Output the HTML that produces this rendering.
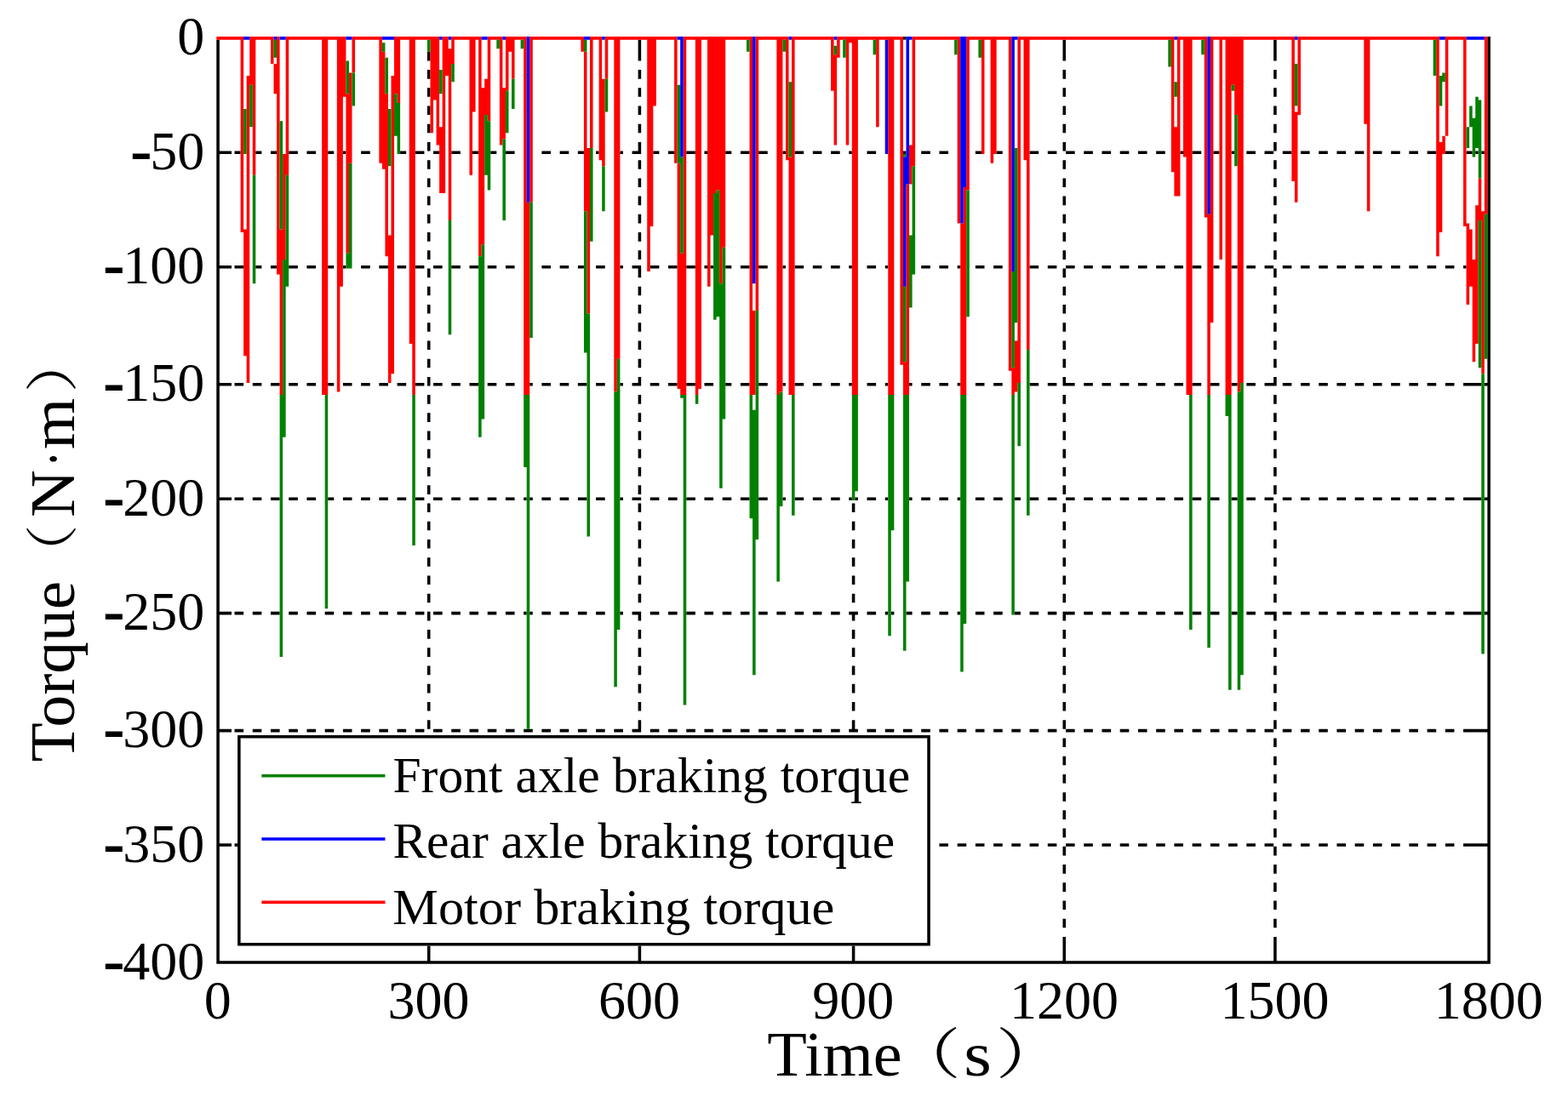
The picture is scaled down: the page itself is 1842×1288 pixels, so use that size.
<!DOCTYPE html>
<html>
<head>
<meta charset="utf-8">
<title>Braking torque</title>
<style>
html,body{margin:0;padding:0;background:#fff;}
body{width:1842px;height:1288px;overflow:hidden;position:relative;}
svg{position:absolute;left:0;top:0;display:block;}
text{font-family:"Liberation Serif","Noto Serif CJK SC",serif;fill:#000;}
.tk{font-size:64px;}
.hy{font-size:77px;font-weight:bold;}
.lg{font-size:58.2px;}
.ax{font-size:74px;}
.pr{font-size:64px;}
.pr2{font-size:62px;}
</style>
</head>
<body>
<svg width="1842" height="1288" viewBox="0 0 1842 1288">
<rect x="0" y="0" width="1842" height="1288" fill="#fff"/>
<path id="frame" fill="#000" d="M254.3 46.64H257.84V1132.8H254.3ZM257.84 449.97H271.99V453.51H257.84ZM257.84 177.54H271.99V181.08H257.84ZM257.84 718.86H271.99V722.4H257.84ZM257.84 584.41H271.99V587.95H257.84ZM257.84 856.84H271.99V860.38H257.84ZM257.84 311.99H271.99V315.53H257.84ZM257.84 991.28H271.99V994.82H257.84ZM275.53 177.54H282.6V181.08H275.53ZM275.53 449.97H286.14V453.51H275.53ZM275.53 718.86H286.14V722.4H275.53ZM275.53 584.41H286.14V587.95H275.53ZM275.53 856.84H286.14V860.38H275.53ZM275.53 311.99H286.14V315.53H275.53ZM275.53 991.28H286.14V994.82H275.53ZM296.76 449.97H307.37V453.51H296.76ZM296.76 718.86H307.37V722.4H296.76ZM296.76 584.41H307.37V587.95H296.76ZM296.76 856.84H307.37V860.38H296.76ZM296.76 991.28H307.37V994.82H296.76ZM300.29 177.54H307.37V181.08H300.29ZM300.29 311.99H307.37V315.53H300.29ZM317.98 177.54H325.06V181.08H317.98ZM317.98 311.99H325.06V315.53H317.98ZM317.98 449.97H328.6V453.51H317.98ZM317.98 718.86H328.6V722.4H317.98ZM317.98 584.41H328.6V587.95H317.98ZM317.98 856.84H328.6V860.38H317.98ZM317.98 991.28H328.6V994.82H317.98ZM339.21 449.97H349.83V453.51H339.21ZM339.21 177.54H349.83V181.08H339.21ZM339.21 718.86H349.83V722.4H339.21ZM339.21 584.41H349.83V587.95H339.21ZM339.21 856.84H349.83V860.38H339.21ZM339.21 311.99H349.83V315.53H339.21ZM339.21 991.28H349.83V994.82H339.21ZM360.44 449.97H371.05V453.51H360.44ZM360.44 177.54H371.05V181.08H360.44ZM360.44 718.86H371.05V722.4H360.44ZM360.44 584.41H371.05V587.95H360.44ZM360.44 856.84H371.05V860.38H360.44ZM360.44 311.99H371.05V315.53H360.44ZM360.44 991.28H371.05V994.82H360.44ZM381.67 991.28H392.28V994.82H381.67ZM381.67 718.86H392.28V722.4H381.67ZM381.67 856.84H392.28V860.38H381.67ZM385.21 449.97H392.28V453.51H385.21ZM385.21 177.54H392.28V181.08H385.21ZM385.21 584.41H392.28V587.95H385.21ZM385.21 311.99H392.28V315.53H385.21ZM402.9 177.54H406.43V181.08H402.9ZM402.9 311.99H406.43V315.53H402.9ZM402.9 449.97H413.51V453.51H402.9ZM402.9 718.86H413.51V722.4H402.9ZM402.9 584.41H413.51V587.95H402.9ZM402.9 856.84H413.51V860.38H402.9ZM402.9 991.28H413.51V994.82H402.9ZM424.12 449.97H434.74V453.51H424.12ZM424.12 177.54H434.74V181.08H424.12ZM424.12 718.86H434.74V722.4H424.12ZM424.12 584.41H434.74V587.95H424.12ZM424.12 856.84H434.74V860.38H424.12ZM424.12 311.99H434.74V315.53H424.12ZM424.12 991.28H434.74V994.82H424.12ZM445.35 449.97H455.97V453.51H445.35ZM445.35 718.86H455.97V722.4H445.35ZM445.35 584.41H455.97V587.95H445.35ZM445.35 856.84H455.97V860.38H445.35ZM445.35 311.99H455.97V315.53H445.35ZM445.35 991.28H455.97V994.82H445.35ZM466.58 449.97H477.19V453.51H466.58ZM466.58 718.86H477.19V722.4H466.58ZM466.58 584.41H477.19V587.95H466.58ZM466.58 856.84H477.19V860.38H466.58ZM466.58 311.99H477.19V315.53H466.58ZM466.58 991.28H477.19V994.82H466.58ZM470.12 177.54H477.19V181.08H470.12ZM487.81 449.97H498.42V453.51H487.81ZM487.81 177.54H498.42V181.08H487.81ZM487.81 718.86H498.42V722.4H487.81ZM487.81 584.41H498.42V587.95H487.81ZM487.81 856.84H498.42V860.38H487.81ZM487.81 311.99H498.42V315.53H487.81ZM487.81 991.28H498.42V994.82H487.81ZM257.84 1129.27H501.96V1132.8H257.84ZM501.96 697.63H505.5V708.24H501.96ZM501.96 761.31H505.5V771.93H501.96ZM501.96 421.67H505.5V432.28H501.96ZM501.96 909.91H505.5V920.52H501.96ZM501.96 485.35H505.5V495.96H501.96ZM501.96 973.59H505.5V984.21H501.96ZM501.96 145.7H505.5V156.32H501.96ZM501.96 633.95H505.5V644.56H501.96ZM501.96 357.98H505.5V368.6H501.96ZM501.96 846.23H505.5V856.84H501.96ZM501.96 82.02H505.5V92.63H501.96ZM501.96 506.58H505.5V517.19H501.96ZM501.96 570.26H505.5V580.88H501.96ZM501.96 230.61H505.5V241.23H501.96ZM501.96 1058.51H505.5V1069.12H501.96ZM501.96 294.3H505.5V304.91H501.96ZM501.96 782.54H505.5V793.16H501.96ZM501.96 994.82H505.5V1005.44H501.96ZM501.96 166.93H505.5V177.54H501.96ZM501.96 655.17H505.5V665.79H501.96ZM501.96 379.21H505.5V389.82H501.96ZM501.96 315.53H505.5V326.14H501.96ZM501.96 718.86H505.5V729.47H501.96ZM501.96 442.89H505.5V453.51H501.96ZM501.96 867.45H505.5V878.07H501.96ZM501.96 103.25H505.5V113.86H501.96ZM501.96 931.14H505.5V941.75H501.96ZM501.96 591.49H505.5V602.1H501.96ZM501.96 1079.73H505.5V1090.35H501.96ZM501.96 740.09H505.5V750.7H501.96ZM501.96 803.77H505.5V814.38H501.96ZM501.96 464.12H505.5V474.74H501.96ZM501.96 952.37H505.5V962.98H501.96ZM501.96 188.16H505.5V198.77H501.96ZM501.96 527.81H505.5V538.42H501.96ZM501.96 1016.05H505.5V1026.66H501.96ZM501.96 251.84H505.5V262.46H501.96ZM501.96 400.44H505.5V411.05H501.96ZM501.96 888.68H505.5V899.3H501.96ZM501.96 124.47H505.5V135.09H501.96ZM501.96 60.79H505.5V71.4H501.96ZM501.96 549.03H505.5V559.65H501.96ZM501.96 612.72H505.5V623.33H501.96ZM501.96 273.07H505.5V283.68H501.96ZM501.96 676.4H505.5V687.02H501.96ZM501.96 336.75H505.5V347.37H501.96ZM501.96 1100.96H505.5V1132.8H501.96ZM501.96 825H505.5V835.61H501.96ZM501.96 1037.28H505.5V1047.89H501.96ZM501.96 209.39H505.5V220H501.96ZM509.04 177.54H516.11V181.08H509.04ZM509.04 449.97H519.65V453.51H509.04ZM509.04 718.86H519.65V722.4H509.04ZM509.04 584.41H519.65V587.95H509.04ZM509.04 856.84H519.65V860.38H509.04ZM509.04 311.99H519.65V315.53H509.04ZM509.04 991.28H519.65V994.82H509.04ZM530.26 449.97H540.88V453.51H530.26ZM530.26 177.54H540.88V181.08H530.26ZM530.26 718.86H540.88V722.4H530.26ZM530.26 584.41H540.88V587.95H530.26ZM530.26 856.84H540.88V860.38H530.26ZM530.26 311.99H540.88V315.53H530.26ZM530.26 991.28H540.88V994.82H530.26ZM551.49 449.97H562.11V453.51H551.49ZM551.49 718.86H562.11V722.4H551.49ZM551.49 584.41H562.11V587.95H551.49ZM551.49 856.84H562.11V860.38H551.49ZM551.49 311.99H562.11V315.53H551.49ZM551.49 991.28H562.11V994.82H551.49ZM555.03 177.54H562.11V181.08H555.03ZM572.72 449.97H583.33V453.51H572.72ZM572.72 718.86H583.33V722.4H572.72ZM572.72 584.41H583.33V587.95H572.72ZM572.72 856.84H583.33V860.38H572.72ZM572.72 311.99H583.33V315.53H572.72ZM572.72 991.28H583.33V994.82H572.72ZM576.26 177.54H583.33V181.08H576.26ZM593.95 449.97H604.56V453.51H593.95ZM593.95 177.54H604.56V181.08H593.95ZM593.95 718.86H604.56V722.4H593.95ZM593.95 584.41H604.56V587.95H593.95ZM593.95 856.84H604.56V860.38H593.95ZM593.95 311.99H604.56V315.53H593.95ZM593.95 991.28H604.56V994.82H593.95ZM615.18 718.86H618.71V722.4H615.18ZM615.18 584.41H618.71V587.95H615.18ZM615.18 856.84H625.79V860.38H615.18ZM615.18 991.28H625.79V994.82H615.18ZM622.25 449.97H625.79V453.51H622.25ZM622.25 718.86H625.79V722.4H622.25ZM622.25 584.41H625.79V587.95H622.25ZM636.4 449.97H647.02V453.51H636.4ZM636.4 177.54H647.02V181.08H636.4ZM636.4 718.86H647.02V722.4H636.4ZM636.4 584.41H647.02V587.95H636.4ZM636.4 856.84H647.02V860.38H636.4ZM636.4 311.99H647.02V315.53H636.4ZM636.4 991.28H647.02V994.82H636.4ZM657.63 449.97H668.25V453.51H657.63ZM657.63 177.54H668.25V181.08H657.63ZM657.63 718.86H668.25V722.4H657.63ZM657.63 584.41H668.25V587.95H657.63ZM657.63 856.84H668.25V860.38H657.63ZM657.63 311.99H668.25V315.53H657.63ZM657.63 991.28H668.25V994.82H657.63ZM678.86 177.54H685.94V181.08H678.86ZM678.86 311.99H685.94V315.53H678.86ZM678.86 449.97H689.47V453.51H678.86ZM678.86 718.86H689.47V722.4H678.86ZM678.86 584.41H689.47V587.95H678.86ZM678.86 856.84H689.47V860.38H678.86ZM678.86 991.28H689.47V994.82H678.86ZM700.09 177.54H703.63V181.08H700.09ZM700.09 449.97H710.7V453.51H700.09ZM700.09 718.86H710.7V722.4H700.09ZM700.09 584.41H710.7V587.95H700.09ZM700.09 856.84H710.7V860.38H700.09ZM700.09 311.99H710.7V315.53H700.09ZM700.09 991.28H710.7V994.82H700.09ZM721.32 991.28H731.93V994.82H721.32ZM721.32 856.84H731.93V860.38H721.32ZM728.39 449.97H731.93V453.51H728.39ZM728.39 177.54H731.93V181.08H728.39ZM728.39 718.86H731.93V722.4H728.39ZM728.39 584.41H731.93V587.95H728.39ZM728.39 311.99H731.93V315.53H728.39ZM505.5 1129.27H749.62V1132.8H505.5ZM742.54 449.97H749.62V453.51H742.54ZM742.54 177.54H749.62V181.08H742.54ZM742.54 718.86H749.62V722.4H742.54ZM742.54 856.84H749.62V860.38H742.54ZM742.54 311.99H749.62V315.53H742.54ZM742.54 991.28H749.62V994.82H742.54ZM742.54 584.41H753.16V587.95H742.54ZM749.62 697.63H753.16V708.24H749.62ZM749.62 761.31H753.16V771.93H749.62ZM749.62 421.67H753.16V432.28H749.62ZM749.62 909.91H753.16V920.52H749.62ZM749.62 166.93H753.16V181.08H749.62ZM749.62 485.35H753.16V495.96H749.62ZM749.62 973.59H753.16V984.21H749.62ZM749.62 145.7H753.16V156.32H749.62ZM749.62 633.95H753.16V644.56H749.62ZM749.62 357.98H753.16V368.6H749.62ZM749.62 82.02H753.16V92.63H749.62ZM749.62 506.58H753.16V517.19H749.62ZM749.62 570.26H753.16V580.88H749.62ZM749.62 230.61H753.16V241.23H749.62ZM749.62 1058.51H753.16V1069.12H749.62ZM749.62 294.3H753.16V304.91H749.62ZM749.62 782.54H753.16V793.16H749.62ZM749.62 655.17H753.16V665.79H749.62ZM749.62 379.21H753.16V389.82H749.62ZM749.62 718.86H753.16V729.47H749.62ZM749.62 442.89H753.16V453.51H749.62ZM749.62 867.45H753.16V878.07H749.62ZM749.62 103.25H753.16V113.86H749.62ZM749.62 931.14H753.16V941.75H749.62ZM749.62 591.49H753.16V602.1H749.62ZM749.62 1079.73H753.16V1090.35H749.62ZM749.62 46.64H753.16V71.4H749.62ZM749.62 740.09H753.16V750.7H749.62ZM749.62 803.77H753.16V814.38H749.62ZM749.62 464.12H753.16V474.74H749.62ZM749.62 952.37H753.16V962.98H749.62ZM749.62 188.16H753.16V198.77H749.62ZM749.62 527.81H753.16V538.42H749.62ZM749.62 1016.05H753.16V1026.66H749.62ZM749.62 251.84H753.16V262.46H749.62ZM749.62 991.28H753.16V1005.44H749.62ZM749.62 400.44H753.16V411.05H749.62ZM749.62 888.68H753.16V899.3H749.62ZM749.62 124.47H753.16V135.09H749.62ZM749.62 549.03H753.16V559.65H749.62ZM749.62 612.72H753.16V623.33H749.62ZM749.62 273.07H753.16V283.68H749.62ZM749.62 676.4H753.16V687.02H749.62ZM749.62 846.23H753.16V860.38H749.62ZM749.62 336.75H753.16V347.37H749.62ZM749.62 1100.96H753.16V1132.8H749.62ZM749.62 311.99H753.16V326.14H749.62ZM749.62 825H753.16V835.61H749.62ZM749.62 1037.28H753.16V1047.89H749.62ZM749.62 209.39H753.16V220H749.62ZM763.77 449.97H774.39V453.51H763.77ZM763.77 718.86H774.39V722.4H763.77ZM763.77 584.41H774.39V587.95H763.77ZM763.77 856.84H774.39V860.38H763.77ZM763.77 311.99H774.39V315.53H763.77ZM763.77 991.28H774.39V994.82H763.77ZM767.31 177.54H774.39V181.08H767.31ZM785 177.54H792.08V181.08H785ZM785 449.97H795.61V453.51H785ZM785 718.86H795.61V722.4H785ZM785 584.41H795.61V587.95H785ZM785 856.84H795.61V860.38H785ZM785 311.99H795.61V315.53H785ZM785 991.28H795.61V994.82H785ZM806.23 449.97H816.84V453.51H806.23ZM806.23 177.54H816.84V181.08H806.23ZM806.23 718.86H816.84V722.4H806.23ZM806.23 584.41H816.84V587.95H806.23ZM806.23 856.84H816.84V860.38H806.23ZM806.23 311.99H816.84V315.53H806.23ZM806.23 991.28H816.84V994.82H806.23ZM827.46 177.54H830.99V181.08H827.46ZM827.46 311.99H830.99V315.53H827.46ZM827.46 449.97H838.07V453.51H827.46ZM827.46 718.86H838.07V722.4H827.46ZM827.46 584.41H838.07V587.95H827.46ZM827.46 856.84H838.07V860.38H827.46ZM827.46 991.28H838.07V994.82H827.46ZM834.53 311.99H838.07V315.53H834.53ZM848.68 718.86H859.3V722.4H848.68ZM848.68 584.41H859.3V587.95H848.68ZM848.68 856.84H859.3V860.38H848.68ZM848.68 991.28H859.3V994.82H848.68ZM852.22 449.97H859.3V453.51H852.22ZM852.22 177.54H859.3V181.08H852.22ZM852.22 311.99H859.3V315.53H852.22ZM869.91 449.97H880.53V453.51H869.91ZM869.91 177.54H880.53V181.08H869.91ZM869.91 718.86H880.53V722.4H869.91ZM869.91 584.41H880.53V587.95H869.91ZM869.91 856.84H880.53V860.38H869.91ZM869.91 311.99H880.53V315.53H869.91ZM869.91 991.28H880.53V994.82H869.91ZM891.14 449.97H901.75V453.51H891.14ZM891.14 177.54H901.75V181.08H891.14ZM891.14 718.86H901.75V722.4H891.14ZM891.14 584.41H901.75V587.95H891.14ZM891.14 856.84H901.75V860.38H891.14ZM891.14 311.99H901.75V315.53H891.14ZM891.14 991.28H901.75V994.82H891.14ZM912.37 991.28H922.98V994.82H912.37ZM912.37 718.86H922.98V722.4H912.37ZM912.37 856.84H922.98V860.38H912.37ZM919.44 449.97H922.98V453.51H919.44ZM919.44 177.54H922.98V181.08H919.44ZM919.44 584.41H922.98V587.95H919.44ZM919.44 311.99H922.98V315.53H919.44ZM933.6 449.97H944.21V453.51H933.6ZM933.6 177.54H944.21V181.08H933.6ZM933.6 718.86H944.21V722.4H933.6ZM933.6 584.41H944.21V587.95H933.6ZM933.6 856.84H944.21V860.38H933.6ZM933.6 311.99H944.21V315.53H933.6ZM933.6 991.28H944.21V994.82H933.6ZM954.82 449.97H965.44V453.51H954.82ZM954.82 177.54H965.44V181.08H954.82ZM954.82 718.86H965.44V722.4H954.82ZM954.82 584.41H965.44V587.95H954.82ZM954.82 856.84H965.44V860.38H954.82ZM954.82 311.99H965.44V315.53H954.82ZM954.82 991.28H965.44V994.82H954.82ZM976.05 449.97H986.67V453.51H976.05ZM976.05 177.54H986.67V181.08H976.05ZM976.05 718.86H986.67V722.4H976.05ZM976.05 584.41H986.67V587.95H976.05ZM976.05 856.84H986.67V860.38H976.05ZM976.05 311.99H986.67V315.53H976.05ZM976.05 991.28H986.67V994.82H976.05ZM753.16 1129.27H1000.82V1132.8H753.16ZM997.28 449.97H1000.82V453.51H997.28ZM997.28 177.54H1000.82V181.08H997.28ZM997.28 718.86H1000.82V722.4H997.28ZM997.28 584.41H1000.82V587.95H997.28ZM997.28 856.84H1000.82V860.38H997.28ZM997.28 311.99H1000.82V315.53H997.28ZM997.28 991.28H1000.82V994.82H997.28ZM1000.82 697.63H1004.36V708.24H1000.82ZM1000.82 761.31H1004.36V771.93H1000.82ZM1000.82 909.91H1004.36V920.52H1000.82ZM1000.82 973.59H1004.36V984.21H1000.82ZM1000.82 633.95H1004.36V644.56H1000.82ZM1000.82 1058.51H1004.36V1069.12H1000.82ZM1000.82 782.54H1004.36V793.16H1000.82ZM1000.82 655.17H1004.36V665.79H1000.82ZM1000.82 718.86H1004.36V729.47H1000.82ZM1000.82 867.45H1004.36V878.07H1000.82ZM1000.82 931.14H1004.36V941.75H1000.82ZM1000.82 591.49H1004.36V602.1H1000.82ZM1000.82 1079.73H1004.36V1090.35H1000.82ZM1000.82 740.09H1004.36V750.7H1000.82ZM1000.82 803.77H1004.36V814.38H1000.82ZM1000.82 952.37H1004.36V962.98H1000.82ZM1000.82 1016.05H1004.36V1026.66H1000.82ZM1000.82 991.28H1004.36V1005.44H1000.82ZM1000.82 888.68H1004.36V899.3H1000.82ZM1000.82 612.72H1004.36V623.33H1000.82ZM1000.82 676.4H1004.36V687.02H1000.82ZM1000.82 846.23H1004.36V860.38H1000.82ZM1000.82 1100.96H1004.36V1132.8H1000.82ZM1000.82 825H1004.36V835.61H1000.82ZM1000.82 1037.28H1004.36V1047.89H1000.82ZM1004.36 718.86H1007.89V722.4H1004.36ZM1004.36 584.41H1007.89V587.95H1004.36ZM1004.36 856.84H1007.89V860.38H1004.36ZM1004.36 991.28H1007.89V994.82H1004.36ZM1018.51 449.97H1029.12V453.51H1018.51ZM1018.51 177.54H1029.12V181.08H1018.51ZM1018.51 718.86H1029.12V722.4H1018.51ZM1018.51 584.41H1029.12V587.95H1018.51ZM1018.51 856.84H1029.12V860.38H1018.51ZM1018.51 311.99H1029.12V315.53H1018.51ZM1018.51 991.28H1029.12V994.82H1018.51ZM1039.74 449.97H1043.27V453.51H1039.74ZM1039.74 718.86H1043.27V722.4H1039.74ZM1039.74 584.41H1043.27V587.95H1039.74ZM1039.74 311.99H1043.27V315.53H1039.74ZM1039.74 856.84H1050.35V860.38H1039.74ZM1039.74 991.28H1050.35V994.82H1039.74ZM1046.81 718.86H1050.35V722.4H1046.81ZM1060.96 177.54H1064.5V181.08H1060.96ZM1060.96 991.28H1071.58V994.82H1060.96ZM1060.96 856.84H1071.58V860.38H1060.96ZM1064.5 718.86H1071.58V722.4H1064.5ZM1068.04 449.97H1071.58V453.51H1068.04ZM1068.04 584.41H1071.58V587.95H1068.04ZM1082.19 449.97H1092.81V453.51H1082.19ZM1082.19 177.54H1092.81V181.08H1082.19ZM1082.19 718.86H1092.81V722.4H1082.19ZM1082.19 584.41H1092.81V587.95H1082.19ZM1082.19 856.84H1092.81V860.38H1082.19ZM1082.19 311.99H1092.81V315.53H1082.19ZM1082.19 991.28H1092.81V994.82H1082.19ZM1103.42 449.97H1114.03V453.51H1103.42ZM1103.42 177.54H1114.03V181.08H1103.42ZM1103.42 718.86H1114.03V722.4H1103.42ZM1103.42 584.41H1114.03V587.95H1103.42ZM1103.42 856.84H1114.03V860.38H1103.42ZM1103.42 311.99H1114.03V315.53H1103.42ZM1103.42 991.28H1114.03V994.82H1103.42ZM1124.65 449.97H1128.19V453.51H1124.65ZM1124.65 718.86H1128.19V722.4H1124.65ZM1124.65 584.41H1128.19V587.95H1124.65ZM1124.65 311.99H1128.19V315.53H1124.65ZM1124.65 856.84H1135.26V860.38H1124.65ZM1124.65 991.28H1135.26V994.82H1124.65ZM1145.88 177.54H1152.95V181.08H1145.88ZM1145.88 449.97H1156.49V453.51H1145.88ZM1145.88 718.86H1156.49V722.4H1145.88ZM1145.88 584.41H1156.49V587.95H1145.88ZM1145.88 856.84H1156.49V860.38H1145.88ZM1145.88 311.99H1156.49V315.53H1145.88ZM1145.88 991.28H1156.49V994.82H1145.88ZM1167.1 449.97H1177.72V453.51H1167.1ZM1167.1 718.86H1177.72V722.4H1167.1ZM1167.1 584.41H1177.72V587.95H1167.1ZM1167.1 856.84H1177.72V860.38H1167.1ZM1167.1 311.99H1177.72V315.53H1167.1ZM1167.1 991.28H1177.72V994.82H1167.1ZM1170.64 177.54H1177.72V181.08H1170.64ZM1188.33 991.28H1198.95V994.82H1188.33ZM1188.33 856.84H1198.95V860.38H1188.33ZM1191.87 718.86H1198.95V722.4H1191.87ZM1191.87 584.41H1198.95V587.95H1191.87ZM1209.56 449.97H1220.17V453.51H1209.56ZM1209.56 177.54H1220.17V181.08H1209.56ZM1209.56 718.86H1220.17V722.4H1209.56ZM1209.56 584.41H1220.17V587.95H1209.56ZM1209.56 856.84H1220.17V860.38H1209.56ZM1209.56 311.99H1220.17V315.53H1209.56ZM1209.56 991.28H1220.17V994.82H1209.56ZM1230.79 449.97H1241.4V453.51H1230.79ZM1230.79 177.54H1241.4V181.08H1230.79ZM1230.79 718.86H1241.4V722.4H1230.79ZM1230.79 584.41H1241.4V587.95H1230.79ZM1230.79 856.84H1241.4V860.38H1230.79ZM1230.79 311.99H1241.4V315.53H1230.79ZM1230.79 991.28H1241.4V994.82H1230.79ZM1004.36 1129.27H1248.48V1132.8H1004.36ZM1248.48 697.63H1252.02V708.24H1248.48ZM1248.48 761.31H1252.02V771.93H1248.48ZM1248.48 421.67H1252.02V432.28H1248.48ZM1248.48 909.91H1252.02V920.52H1248.48ZM1248.48 485.35H1252.02V495.96H1248.48ZM1248.48 973.59H1252.02V984.21H1248.48ZM1248.48 145.7H1252.02V156.32H1248.48ZM1248.48 633.95H1252.02V644.56H1248.48ZM1248.48 357.98H1252.02V368.6H1248.48ZM1248.48 846.23H1252.02V856.84H1248.48ZM1248.48 82.02H1252.02V92.63H1248.48ZM1248.48 506.58H1252.02V517.19H1248.48ZM1248.48 570.26H1252.02V580.88H1248.48ZM1248.48 230.61H1252.02V241.23H1248.48ZM1248.48 1058.51H1252.02V1069.12H1248.48ZM1248.48 294.3H1252.02V304.91H1248.48ZM1248.48 782.54H1252.02V793.16H1248.48ZM1248.48 994.82H1252.02V1005.44H1248.48ZM1248.48 166.93H1252.02V177.54H1248.48ZM1248.48 655.17H1252.02V665.79H1248.48ZM1248.48 379.21H1252.02V389.82H1248.48ZM1248.48 315.53H1252.02V326.14H1248.48ZM1248.48 718.86H1252.02V729.47H1248.48ZM1248.48 442.89H1252.02V453.51H1248.48ZM1248.48 867.45H1252.02V878.07H1248.48ZM1248.48 103.25H1252.02V113.86H1248.48ZM1248.48 931.14H1252.02V941.75H1248.48ZM1248.48 591.49H1252.02V602.1H1248.48ZM1248.48 1079.73H1252.02V1090.35H1248.48ZM1248.48 46.64H1252.02V71.4H1248.48ZM1248.48 740.09H1252.02V750.7H1248.48ZM1248.48 803.77H1252.02V814.38H1248.48ZM1248.48 464.12H1252.02V474.74H1248.48ZM1248.48 952.37H1252.02V962.98H1248.48ZM1248.48 188.16H1252.02V198.77H1248.48ZM1248.48 527.81H1252.02V538.42H1248.48ZM1248.48 1016.05H1252.02V1026.66H1248.48ZM1248.48 251.84H1252.02V262.46H1248.48ZM1248.48 400.44H1252.02V411.05H1248.48ZM1248.48 888.68H1252.02V899.3H1248.48ZM1248.48 124.47H1252.02V135.09H1248.48ZM1248.48 549.03H1252.02V559.65H1248.48ZM1248.48 612.72H1252.02V623.33H1248.48ZM1248.48 273.07H1252.02V283.68H1248.48ZM1248.48 676.4H1252.02V687.02H1248.48ZM1248.48 336.75H1252.02V347.37H1248.48ZM1248.48 1100.96H1252.02V1132.8H1248.48ZM1248.48 825H1252.02V835.61H1248.48ZM1248.48 1037.28H1252.02V1047.89H1248.48ZM1248.48 209.39H1252.02V220H1248.48ZM1252.02 449.97H1262.63V453.51H1252.02ZM1252.02 177.54H1262.63V181.08H1252.02ZM1252.02 718.86H1262.63V722.4H1252.02ZM1252.02 584.41H1262.63V587.95H1252.02ZM1252.02 856.84H1262.63V860.38H1252.02ZM1252.02 311.99H1262.63V315.53H1252.02ZM1252.02 991.28H1262.63V994.82H1252.02ZM1273.24 449.97H1283.86V453.51H1273.24ZM1273.24 177.54H1283.86V181.08H1273.24ZM1273.24 718.86H1283.86V722.4H1273.24ZM1273.24 584.41H1283.86V587.95H1273.24ZM1273.24 856.84H1283.86V860.38H1273.24ZM1273.24 311.99H1283.86V315.53H1273.24ZM1273.24 991.28H1283.86V994.82H1273.24ZM1294.47 449.97H1305.09V453.51H1294.47ZM1294.47 177.54H1305.09V181.08H1294.47ZM1294.47 718.86H1305.09V722.4H1294.47ZM1294.47 584.41H1305.09V587.95H1294.47ZM1294.47 856.84H1305.09V860.38H1294.47ZM1294.47 311.99H1305.09V315.53H1294.47ZM1294.47 991.28H1305.09V994.82H1294.47ZM1315.7 449.97H1326.31V453.51H1315.7ZM1315.7 177.54H1326.31V181.08H1315.7ZM1315.7 718.86H1326.31V722.4H1315.7ZM1315.7 584.41H1326.31V587.95H1315.7ZM1315.7 856.84H1326.31V860.38H1315.7ZM1315.7 311.99H1326.31V315.53H1315.7ZM1315.7 991.28H1326.31V994.82H1315.7ZM1336.93 449.97H1347.54V453.51H1336.93ZM1336.93 177.54H1347.54V181.08H1336.93ZM1336.93 718.86H1347.54V722.4H1336.93ZM1336.93 584.41H1347.54V587.95H1336.93ZM1336.93 856.84H1347.54V860.38H1336.93ZM1336.93 311.99H1347.54V315.53H1336.93ZM1336.93 991.28H1347.54V994.82H1336.93ZM1358.16 449.97H1368.77V453.51H1358.16ZM1358.16 177.54H1368.77V181.08H1358.16ZM1358.16 718.86H1368.77V722.4H1358.16ZM1358.16 584.41H1368.77V587.95H1358.16ZM1358.16 856.84H1368.77V860.38H1358.16ZM1358.16 311.99H1368.77V315.53H1358.16ZM1358.16 991.28H1368.77V994.82H1358.16ZM1379.38 449.97H1390V453.51H1379.38ZM1379.38 718.86H1390V722.4H1379.38ZM1379.38 584.41H1390V587.95H1379.38ZM1379.38 856.84H1390V860.38H1379.38ZM1379.38 311.99H1390V315.53H1379.38ZM1379.38 991.28H1390V994.82H1379.38ZM1386.46 177.54H1390V181.08H1386.46ZM1400.61 449.97H1411.23V453.51H1400.61ZM1400.61 177.54H1411.23V181.08H1400.61ZM1400.61 718.86H1411.23V722.4H1400.61ZM1400.61 584.41H1411.23V587.95H1400.61ZM1400.61 856.84H1411.23V860.38H1400.61ZM1400.61 311.99H1411.23V315.53H1400.61ZM1400.61 991.28H1411.23V994.82H1400.61ZM1421.84 449.97H1432.45V453.51H1421.84ZM1421.84 718.86H1432.45V722.4H1421.84ZM1421.84 584.41H1432.45V587.95H1421.84ZM1421.84 856.84H1432.45V860.38H1421.84ZM1421.84 991.28H1432.45V994.82H1421.84ZM1425.38 177.54H1432.45V181.08H1425.38ZM1425.38 311.99H1432.45V315.53H1425.38ZM1446.61 177.54H1450.14V181.08H1446.61ZM1443.07 991.28H1453.68V994.82H1443.07ZM1443.07 856.84H1453.68V860.38H1443.07ZM1446.61 449.97H1453.68V453.51H1446.61ZM1446.61 718.86H1453.68V722.4H1446.61ZM1446.61 584.41H1453.68V587.95H1446.61ZM1446.61 311.99H1453.68V315.53H1446.61ZM1464.3 449.97H1474.91V453.51H1464.3ZM1464.3 177.54H1474.91V181.08H1464.3ZM1464.3 718.86H1474.91V722.4H1464.3ZM1464.3 584.41H1474.91V587.95H1464.3ZM1464.3 856.84H1474.91V860.38H1464.3ZM1464.3 311.99H1474.91V315.53H1464.3ZM1464.3 991.28H1474.91V994.82H1464.3ZM1252.02 1129.27H1496.14V1132.8H1252.02ZM1485.52 449.97H1496.14V453.51H1485.52ZM1485.52 177.54H1496.14V181.08H1485.52ZM1485.52 718.86H1496.14V722.4H1485.52ZM1485.52 584.41H1496.14V587.95H1485.52ZM1485.52 856.84H1496.14V860.38H1485.52ZM1485.52 311.99H1496.14V315.53H1485.52ZM1485.52 991.28H1496.14V994.82H1485.52ZM1496.14 697.63H1499.68V708.24H1496.14ZM1496.14 761.31H1499.68V771.93H1496.14ZM1496.14 421.67H1499.68V432.28H1496.14ZM1496.14 909.91H1499.68V920.52H1496.14ZM1496.14 485.35H1499.68V495.96H1496.14ZM1496.14 973.59H1499.68V984.21H1496.14ZM1496.14 145.7H1499.68V156.32H1496.14ZM1496.14 633.95H1499.68V644.56H1496.14ZM1496.14 357.98H1499.68V368.6H1496.14ZM1496.14 846.23H1499.68V856.84H1496.14ZM1496.14 82.02H1499.68V92.63H1496.14ZM1496.14 506.58H1499.68V517.19H1496.14ZM1496.14 570.26H1499.68V580.88H1496.14ZM1496.14 230.61H1499.68V241.23H1496.14ZM1496.14 1058.51H1499.68V1069.12H1496.14ZM1496.14 294.3H1499.68V304.91H1496.14ZM1496.14 782.54H1499.68V793.16H1496.14ZM1496.14 994.82H1499.68V1005.44H1496.14ZM1496.14 166.93H1499.68V177.54H1496.14ZM1496.14 655.17H1499.68V665.79H1496.14ZM1496.14 379.21H1499.68V389.82H1496.14ZM1496.14 315.53H1499.68V326.14H1496.14ZM1496.14 718.86H1499.68V729.47H1496.14ZM1496.14 442.89H1499.68V453.51H1496.14ZM1496.14 867.45H1499.68V878.07H1496.14ZM1496.14 103.25H1499.68V113.86H1496.14ZM1496.14 931.14H1499.68V941.75H1496.14ZM1496.14 591.49H1499.68V602.1H1496.14ZM1496.14 1079.73H1499.68V1090.35H1496.14ZM1496.14 46.64H1499.68V71.4H1496.14ZM1496.14 740.09H1499.68V750.7H1496.14ZM1496.14 803.77H1499.68V814.38H1496.14ZM1496.14 464.12H1499.68V474.74H1496.14ZM1496.14 952.37H1499.68V962.98H1496.14ZM1496.14 188.16H1499.68V198.77H1496.14ZM1496.14 527.81H1499.68V538.42H1496.14ZM1496.14 1016.05H1499.68V1026.66H1496.14ZM1496.14 251.84H1499.68V262.46H1496.14ZM1496.14 400.44H1499.68V411.05H1496.14ZM1496.14 888.68H1499.68V899.3H1496.14ZM1496.14 124.47H1499.68V135.09H1496.14ZM1496.14 549.03H1499.68V559.65H1496.14ZM1496.14 612.72H1499.68V623.33H1496.14ZM1496.14 273.07H1499.68V283.68H1496.14ZM1496.14 676.4H1499.68V687.02H1496.14ZM1496.14 336.75H1499.68V347.37H1496.14ZM1496.14 1100.96H1499.68V1132.8H1496.14ZM1496.14 825H1499.68V835.61H1496.14ZM1496.14 1037.28H1499.68V1047.89H1496.14ZM1496.14 209.39H1499.68V220H1496.14ZM1506.75 449.97H1517.37V453.51H1506.75ZM1506.75 177.54H1517.37V181.08H1506.75ZM1506.75 718.86H1517.37V722.4H1506.75ZM1506.75 584.41H1517.37V587.95H1506.75ZM1506.75 856.84H1517.37V860.38H1506.75ZM1506.75 311.99H1517.37V315.53H1506.75ZM1506.75 991.28H1517.37V994.82H1506.75ZM1527.98 449.97H1538.59V453.51H1527.98ZM1527.98 177.54H1538.59V181.08H1527.98ZM1527.98 718.86H1538.59V722.4H1527.98ZM1527.98 584.41H1538.59V587.95H1527.98ZM1527.98 856.84H1538.59V860.38H1527.98ZM1527.98 311.99H1538.59V315.53H1527.98ZM1527.98 991.28H1538.59V994.82H1527.98ZM1549.21 449.97H1559.82V453.51H1549.21ZM1549.21 177.54H1559.82V181.08H1549.21ZM1549.21 718.86H1559.82V722.4H1549.21ZM1549.21 584.41H1559.82V587.95H1549.21ZM1549.21 856.84H1559.82V860.38H1549.21ZM1549.21 311.99H1559.82V315.53H1549.21ZM1549.21 991.28H1559.82V994.82H1549.21ZM1570.44 449.97H1581.05V453.51H1570.44ZM1570.44 177.54H1581.05V181.08H1570.44ZM1570.44 718.86H1581.05V722.4H1570.44ZM1570.44 584.41H1581.05V587.95H1570.44ZM1570.44 856.84H1581.05V860.38H1570.44ZM1570.44 311.99H1581.05V315.53H1570.44ZM1570.44 991.28H1581.05V994.82H1570.44ZM1591.66 449.97H1602.28V453.51H1591.66ZM1591.66 177.54H1602.28V181.08H1591.66ZM1591.66 718.86H1602.28V722.4H1591.66ZM1591.66 584.41H1602.28V587.95H1591.66ZM1591.66 856.84H1602.28V860.38H1591.66ZM1591.66 311.99H1602.28V315.53H1591.66ZM1591.66 991.28H1602.28V994.82H1591.66ZM1612.89 449.97H1623.51V453.51H1612.89ZM1612.89 177.54H1623.51V181.08H1612.89ZM1612.89 718.86H1623.51V722.4H1612.89ZM1612.89 584.41H1623.51V587.95H1612.89ZM1612.89 856.84H1623.51V860.38H1612.89ZM1612.89 311.99H1623.51V315.53H1612.89ZM1612.89 991.28H1623.51V994.82H1612.89ZM1634.12 449.97H1644.73V453.51H1634.12ZM1634.12 177.54H1644.73V181.08H1634.12ZM1634.12 718.86H1644.73V722.4H1634.12ZM1634.12 584.41H1644.73V587.95H1634.12ZM1634.12 856.84H1644.73V860.38H1634.12ZM1634.12 311.99H1644.73V315.53H1634.12ZM1634.12 991.28H1644.73V994.82H1634.12ZM1655.35 449.97H1665.96V453.51H1655.35ZM1655.35 177.54H1665.96V181.08H1655.35ZM1655.35 718.86H1665.96V722.4H1655.35ZM1655.35 584.41H1665.96V587.95H1655.35ZM1655.35 856.84H1665.96V860.38H1655.35ZM1655.35 311.99H1665.96V315.53H1655.35ZM1655.35 991.28H1665.96V994.82H1655.35ZM1676.58 449.97H1687.19V453.51H1676.58ZM1676.58 177.54H1687.19V181.08H1676.58ZM1676.58 718.86H1687.19V722.4H1676.58ZM1676.58 584.41H1687.19V587.95H1676.58ZM1676.58 856.84H1687.19V860.38H1676.58ZM1676.58 311.99H1687.19V315.53H1676.58ZM1676.58 991.28H1687.19V994.82H1676.58ZM1697.8 449.97H1708.42V453.51H1697.8ZM1697.8 177.54H1708.42V181.08H1697.8ZM1697.8 718.86H1708.42V722.4H1697.8ZM1697.8 584.41H1708.42V587.95H1697.8ZM1697.8 856.84H1708.42V860.38H1697.8ZM1697.8 311.99H1708.42V315.53H1697.8ZM1697.8 991.28H1708.42V994.82H1697.8ZM1719.03 311.99H1722.57V315.53H1719.03ZM1722.57 177.54H1729.65V181.08H1722.57ZM1733.18 177.54H1736.72V181.08H1733.18ZM1719.03 449.97H1740.26V453.51H1719.03ZM1719.03 718.86H1740.26V722.4H1719.03ZM1719.03 584.41H1740.26V587.95H1719.03ZM1740.26 177.54H1743.8V181.08H1740.26ZM1499.68 1129.27H1747.34V1132.8H1499.68ZM1719.03 856.84H1747.34V860.38H1719.03ZM1719.03 991.28H1747.34V994.82H1719.03ZM1743.8 449.97H1747.34V453.51H1743.8ZM1743.8 718.86H1747.34V722.4H1743.8ZM1743.8 584.41H1747.34V587.95H1743.8ZM1747.34 43.1H1750.87V1132.8H1747.34Z"/>
<path class="dR" fill="#ff0000" d="M254.3 43.1H282.6V46.64H254.3ZM282.6 43.1H286.14V273.07H282.6ZM286.14 269.53H289.68V418.13H286.14ZM289.68 89.09H293.22V449.97H289.68ZM293.22 43.1H296.76V99.71H293.22ZM296.76 43.1H300.29V205.85H296.76ZM300.29 43.1H317.98V46.64H300.29ZM317.98 43.1H321.52V74.94H317.98ZM321.52 74.94H325.06V110.32H321.52ZM325.06 43.1H328.6V322.6H325.06ZM328.6 269.53H332.14V464.12H328.6ZM332.14 181.08H335.67V304.91H332.14ZM335.67 43.1H339.21V205.85H335.67ZM339.21 43.1H378.13V46.64H339.21ZM378.13 43.1H385.21V464.12H378.13ZM385.21 43.1H395.82V46.64H385.21ZM395.82 43.1H399.36V460.58H395.82ZM399.36 43.1H402.9V336.75H399.36ZM402.9 43.1H406.43V113.86H402.9ZM406.43 110.32H409.97V297.84H406.43ZM409.97 85.56H413.51V191.7H409.97ZM413.51 43.1H417.05V85.56H413.51ZM417.05 43.1H445.35V46.64H417.05ZM445.35 43.1H448.89V191.7H445.35ZM448.89 60.79H452.43V198.77H448.89ZM452.43 110.32H455.97V301.37H452.43ZM455.97 276.61H459.5V449.97H455.97ZM459.5 89.09H463.04V439.36H459.5ZM463.04 43.1H466.58V110.32H463.04ZM466.58 43.1H470.12V120.94H466.58ZM470.12 43.1H480.73V46.64H470.12ZM480.73 43.1H484.27V403.98H480.73ZM484.27 43.1H487.81V464.12H484.27ZM487.81 43.1H505.5V46.64H487.81ZM505.5 43.1H509.04V156.32H505.5ZM509.04 43.1H512.57V117.4H509.04ZM512.57 43.1H516.11V170.47H512.57ZM516.11 149.24H519.65V227.08H516.11ZM519.65 43.1H523.19V227.08H519.65ZM523.19 43.1H526.73V89.09H523.19ZM526.73 57.25H530.26V258.92H526.73ZM530.26 43.1H533.8V74.94H530.26ZM533.8 43.1H551.49V46.64H533.8ZM551.49 43.1H555.03V205.85H551.49ZM555.03 43.1H558.57V131.55H555.03ZM558.57 43.1H562.11V46.64H558.57ZM562.11 43.1H565.64V301.37H562.11ZM565.64 103.25H569.18V287.22H565.64ZM569.18 92.63H572.72V135.09H569.18ZM572.72 43.1H576.26V142.16H572.72ZM576.26 43.1H586.87V46.64H576.26ZM586.87 43.1H590.41V170.47H586.87ZM590.41 103.25H593.95V163.39H590.41ZM593.95 43.1H597.49V106.78H593.95ZM597.49 43.1H601.02V60.79H597.49ZM601.02 43.1H604.56V92.63H601.02ZM604.56 43.1H615.18V46.64H604.56ZM615.18 43.1H618.71V464.12H615.18ZM618.71 237.69H622.25V464.12H618.71ZM622.25 43.1H625.79V237.69H622.25ZM625.79 43.1H682.4V46.64H625.79ZM682.4 43.1H685.94V60.79H682.4ZM685.94 60.79H689.47V248.3H685.94ZM689.47 174.01H693.01V368.6H689.47ZM693.01 43.1H696.55V174.01H693.01ZM696.55 43.1H703.63V46.64H696.55ZM703.63 43.1H707.16V188.16H703.63ZM707.16 92.63H710.7V195.23H707.16ZM710.7 43.1H714.24V92.63H710.7ZM714.24 43.1H721.32V46.64H714.24ZM721.32 43.1H724.85V460.58H721.32ZM724.85 43.1H728.39V421.67H724.85ZM728.39 43.1H760.23V46.64H728.39ZM760.23 43.1H763.77V319.06H760.23ZM763.77 43.1H767.31V265.99H763.77ZM767.31 43.1H770.85V124.47H767.31ZM770.85 43.1H792.08V46.64H770.85ZM792.08 43.1H795.61V191.7H792.08ZM795.61 191.7H799.15V457.05H795.61ZM799.15 297.84H802.69V464.12H799.15ZM802.69 43.1H806.23V464.12H802.69ZM806.23 43.1H816.84V46.64H806.23ZM816.84 43.1H820.38V464.12H816.84ZM820.38 43.1H823.92V457.05H820.38ZM823.92 43.1H830.99V46.64H823.92ZM830.99 43.1H834.53V336.75H830.99ZM834.53 43.1H838.07V276.61H834.53ZM838.07 43.1H841.61V227.08H838.07ZM841.61 43.1H845.15V223.54H841.61ZM845.15 43.1H848.68V333.22H845.15ZM848.68 43.1H852.22V290.76H848.68ZM852.22 43.1H880.53V46.64H852.22ZM880.53 43.1H884.06V464.12H880.53ZM884.06 365.06H887.6V464.12H884.06ZM887.6 43.1H891.14V365.06H887.6ZM891.14 43.1H912.37V46.64H891.14ZM912.37 43.1H915.91V464.12H912.37ZM915.91 43.1H919.44V460.58H915.91ZM919.44 43.1H922.98V46.64H919.44ZM922.98 43.1H926.52V188.16H922.98ZM926.52 184.62H930.06V464.12H926.52ZM930.06 43.1H933.6V464.12H930.06ZM933.6 43.1H976.05V46.64H933.6ZM976.05 43.1H979.59V106.78H976.05ZM979.59 64.33H983.13V170.47H979.59ZM983.13 43.1H986.67V67.87H983.13ZM986.67 43.1H993.74V46.64H986.67ZM993.74 43.1H997.28V170.47H993.74ZM997.28 43.1H1000.82V50.18H997.28ZM1000.82 43.1H1007.89V464.12H1000.82ZM1007.89 43.1H1029.12V46.64H1007.89ZM1029.12 43.1H1032.66V149.24H1029.12ZM1032.66 43.1H1043.27V46.64H1032.66ZM1043.27 43.1H1050.35V464.12H1043.27ZM1050.35 43.1H1057.43V46.64H1050.35ZM1057.43 43.1H1060.96V428.74H1057.43ZM1060.96 425.2H1064.5V464.12H1060.96ZM1064.5 216.46H1068.04V464.12H1064.5ZM1068.04 170.47H1071.58V216.46H1068.04ZM1071.58 43.1H1075.12V195.23H1071.58ZM1075.12 43.1H1124.65V46.64H1075.12ZM1124.65 43.1H1128.19V262.46H1124.65ZM1128.19 262.46H1131.72V464.12H1128.19ZM1131.72 220H1135.26V464.12H1131.72ZM1135.26 43.1H1138.8V223.54H1135.26ZM1138.8 43.1H1152.95V46.64H1138.8ZM1152.95 43.1H1156.49V181.08H1152.95ZM1156.49 43.1H1163.57V46.64H1156.49ZM1163.57 43.1H1167.1V191.7H1163.57ZM1167.1 43.1H1170.64V181.08H1167.1ZM1170.64 43.1H1184.79V46.64H1170.64ZM1184.79 43.1H1188.33V435.82H1184.79ZM1188.33 432.28H1191.87V464.12H1188.33ZM1191.87 400.44H1195.41V460.58H1191.87ZM1195.41 43.1H1198.95V449.97H1195.41ZM1198.95 43.1H1202.48V46.64H1198.95ZM1202.48 43.1H1206.02V188.16H1202.48ZM1206.02 43.1H1209.56V411.05H1206.02ZM1209.56 43.1H1375.85V46.64H1209.56ZM1375.85 43.1H1379.38V202.31H1375.85ZM1379.38 149.24H1382.92V230.61H1379.38ZM1382.92 43.1H1386.46V230.61H1382.92ZM1386.46 43.1H1390V46.64H1386.46ZM1390 43.1H1393.54V184.62H1390ZM1393.54 43.1H1400.61V464.12H1393.54ZM1400.61 43.1H1414.76V46.64H1400.61ZM1414.76 43.1H1418.3V255.38H1414.76ZM1418.3 251.84H1421.84V464.12H1418.3ZM1421.84 43.1H1425.38V379.21H1421.84ZM1425.38 43.1H1432.45V46.64H1425.38ZM1432.45 43.1H1435.99V304.91H1432.45ZM1435.99 43.1H1439.53V46.64H1435.99ZM1439.53 43.1H1446.61V464.12H1439.53ZM1446.61 43.1H1450.14V99.71H1446.61ZM1450.14 43.1H1453.68V135.09H1450.14ZM1453.68 43.1H1457.22V460.58H1453.68ZM1457.22 43.1H1460.76V449.97H1457.22ZM1460.76 43.1H1517.37V46.64H1460.76ZM1517.37 43.1H1520.9V212.92H1517.37ZM1520.9 131.55H1524.44V237.69H1520.9ZM1524.44 43.1H1527.98V135.09H1524.44ZM1527.98 43.1H1602.28V46.64H1527.98ZM1602.28 43.1H1605.82V145.7H1602.28ZM1605.82 43.1H1609.35V248.3H1605.82ZM1609.35 43.1H1687.19V46.64H1609.35ZM1687.19 43.1H1690.73V301.37H1687.19ZM1690.73 166.93H1694.27V273.07H1690.73ZM1694.27 159.85H1697.8V181.08H1694.27ZM1697.8 43.1H1701.34V159.85H1697.8ZM1701.34 43.1H1719.03V46.64H1701.34ZM1719.03 43.1H1722.57V265.99H1719.03ZM1722.57 262.46H1726.11V357.98H1722.57ZM1726.11 269.53H1729.65V336.75H1726.11ZM1729.65 304.91H1733.18V425.2H1729.65ZM1733.18 241.23H1736.72V403.98H1733.18ZM1736.72 209.39H1740.26V258.92H1736.72ZM1740.26 248.3H1743.8V439.36H1740.26ZM1743.8 43.1H1747.34V251.84H1743.8Z"/>
<path class="dG" fill="#008000" d="M286.14 128.01H289.68V181.08H286.14ZM293.22 99.71H296.76V149.24H293.22ZM296.76 205.85H300.29V333.22H296.76ZM321.52 46.64H325.06V67.87H321.52ZM328.6 464.12H332.14V771.93H328.6ZM328.6 142.16H332.14V269.53H328.6ZM332.14 304.91H335.67V513.65H332.14ZM335.67 205.85H339.21V336.75H335.67ZM381.67 464.12H385.21V715.32H381.67ZM406.43 71.4H409.97V110.32H406.43ZM406.43 297.84H409.97V315.53H406.43ZM409.97 191.7H413.51V315.53H409.97ZM413.51 85.56H417.05V124.47H413.51ZM448.89 50.18H452.43V60.79H448.89ZM452.43 67.87H455.97V110.32H452.43ZM455.97 128.01H459.5V195.23H455.97ZM463.04 110.32H466.58V159.85H463.04ZM466.58 120.94H470.12V181.08H466.58ZM484.27 464.12H487.81V641.02H484.27ZM501.96 46.64H505.5V60.79H501.96ZM516.11 82.02H519.65V110.32H516.11ZM526.73 258.92H530.26V393.36H526.73ZM530.26 74.94H533.8V96.17H530.26ZM562.11 301.37H565.64V513.65H562.11ZM565.64 287.22H569.18V492.43H565.64ZM569.18 135.09H572.72V205.85H569.18ZM572.72 142.16H576.26V223.54H572.72ZM583.33 46.64H586.87V57.25H583.33ZM590.41 163.39H593.95V258.92H590.41ZM593.95 106.78H597.49V156.32H593.95ZM601.02 92.63H604.56V128.01H601.02ZM611.64 46.64H615.18V57.25H611.64ZM615.18 464.12H618.71V549.03H615.18ZM618.71 464.12H622.25V856.84H618.71ZM622.25 237.69H625.79V396.9H622.25ZM685.94 248.3H689.47V414.59H685.94ZM685.94 46.64H689.47V60.79H685.94ZM689.47 368.6H693.01V630.41H689.47ZM693.01 174.01H696.55V283.68H693.01ZM707.16 195.23H710.7V248.3H707.16ZM710.7 92.63H714.24V131.55H710.7ZM721.32 460.58H724.85V807.31H721.32ZM724.85 421.67H728.39V740.09H724.85ZM795.61 99.71H799.15V191.7H795.61ZM799.15 184.62H802.69V297.84H799.15ZM799.15 464.12H802.69V467.66H799.15ZM802.69 464.12H806.23V828.54H802.69ZM816.84 464.12H820.38V474.74H816.84ZM838.07 227.08H841.61V375.67H838.07ZM841.61 223.54H845.15V372.13H841.61ZM845.15 333.22H848.68V573.8H845.15ZM848.68 290.76H852.22V492.43H848.68ZM876.99 46.64H880.53V60.79H876.99ZM880.53 464.12H884.06V609.18H880.53ZM884.06 481.81H887.6V793.16H884.06ZM887.6 365.06H891.14V633.95H887.6ZM912.37 464.12H915.91V683.48H912.37ZM915.91 460.58H919.44V595.03H915.91ZM919.44 46.64H922.98V60.79H919.44ZM926.52 96.17H930.06V184.62H926.52ZM930.06 464.12H933.6V605.64H930.06ZM979.59 53.71H983.13V64.33H979.59ZM990.2 46.64H993.74V67.87H990.2ZM1000.82 464.12H1004.36V587.95H1000.82ZM1004.36 464.12H1007.89V577.34H1004.36ZM1025.58 46.64H1029.12V64.33H1025.58ZM1043.27 464.12H1046.81V747.16H1043.27ZM1046.81 464.12H1050.35V623.33H1046.81ZM1060.96 181.08H1064.5V184.62H1060.96ZM1060.96 336.75H1064.5V425.2H1060.96ZM1060.96 464.12H1064.5V764.85H1060.96ZM1064.5 464.12H1068.04V683.48H1064.5ZM1068.04 276.61H1071.58V361.52H1068.04ZM1071.58 195.23H1075.12V322.6H1071.58ZM1121.11 46.64H1124.65V64.33H1121.11ZM1128.19 464.12H1131.72V789.62H1128.19ZM1131.72 464.12H1135.26V733.01H1131.72ZM1135.26 223.54H1138.8V372.13H1135.26ZM1149.41 46.64H1152.95V67.87H1149.41ZM1188.33 319.06H1191.87V432.28H1188.33ZM1188.33 464.12H1191.87V722.4H1188.33ZM1191.87 174.01H1195.41V379.21H1191.87ZM1195.41 449.97H1198.95V524.27H1195.41ZM1206.02 411.05H1209.56V605.64H1206.02ZM1372.31 46.64H1375.85V78.48H1372.31ZM1379.38 96.17H1382.92V113.86H1379.38ZM1397.07 464.12H1400.61V740.09H1397.07ZM1411.23 46.64H1414.76V64.33H1411.23ZM1418.3 464.12H1421.84V761.31H1418.3ZM1439.53 464.12H1443.07V488.89H1439.53ZM1443.07 464.12H1446.61V810.85H1443.07ZM1446.61 99.71H1450.14V106.78H1446.61ZM1450.14 135.09H1453.68V195.23H1450.14ZM1453.68 460.58H1457.22V810.85H1453.68ZM1457.22 449.97H1460.76V793.16H1457.22ZM1520.9 74.94H1524.44V124.47H1520.9ZM1683.65 46.64H1687.19V89.09H1683.65ZM1690.73 89.09H1694.27V124.47H1690.73ZM1694.27 85.56H1697.8V96.17H1694.27ZM1722.57 149.24H1726.11V174.01H1722.57ZM1726.11 124.47H1729.65V149.24H1726.11ZM1729.65 138.63H1733.18V184.62H1729.65ZM1733.18 113.86H1736.72V174.01H1733.18ZM1736.72 117.4H1740.26V209.39H1736.72ZM1736.72 258.92H1740.26V432.28H1736.72ZM1740.26 439.36H1743.8V768.39H1740.26ZM1743.8 251.84H1747.34V421.67H1743.8Z"/>
<path class="dB" fill="#0000ff" d="M286.14 43.1H293.22V46.64H286.14ZM321.52 43.1H325.06V46.64H321.52ZM328.6 43.1H335.67V46.64H328.6ZM406.43 43.1H413.51V46.64H406.43ZM448.89 43.1H463.04V46.64H448.89ZM516.11 43.1H519.65V46.64H516.11ZM526.73 43.1H530.26V46.64H526.73ZM565.64 43.1H572.72V46.64H565.64ZM590.41 43.1H593.95V46.64H590.41ZM618.71 43.1H622.25V237.69H618.71ZM685.94 43.1H693.01V46.64H685.94ZM707.16 43.1H710.7V46.64H707.16ZM795.61 43.1H799.15V46.64H795.61ZM799.15 43.1H802.69V184.62H799.15ZM884.06 43.1H887.6V333.22H884.06ZM926.52 43.1H930.06V46.64H926.52ZM979.59 43.1H983.13V46.64H979.59ZM1039.74 46.64H1043.27V181.08H1039.74ZM1060.96 184.62H1064.5V336.75H1060.96ZM1064.5 43.1H1068.04V216.46H1064.5ZM1068.04 43.1H1071.58V46.64H1068.04ZM1128.19 43.1H1131.72V262.46H1128.19ZM1131.72 43.1H1135.26V220H1131.72ZM1188.33 43.1H1191.87V319.06H1188.33ZM1191.87 43.1H1195.41V46.64H1191.87ZM1379.38 43.1H1382.92V46.64H1379.38ZM1418.3 43.1H1421.84V251.84H1418.3ZM1520.9 43.1H1524.44V46.64H1520.9ZM1690.73 43.1H1697.8V46.64H1690.73ZM1722.57 43.1H1743.8V46.64H1722.57Z"/>
<path class="dK" fill="#000000" d="M1060.96 43.1H1064.5V46.64H1060.96Z"/>
<rect x="279.07" y="863.92" width="813.74" height="247.66" fill="#fff"/>
<path fill="#000" fill-rule="evenodd" d="M279.07 863.92H1092.81V1111.58H279.07ZM282.6 867.45H1089.27V1108.04H282.6Z"/>
<rect x="307.37" y="909.91" width="145.06" height="3.54" fill="#008000"/>
<rect x="307.37" y="984.21" width="145.06" height="3.54" fill="#0000ff"/>
<rect x="307.37" y="1058.51" width="145.06" height="3.54" fill="#ff0000"/>
<text><tspan class="lg" x="461.41" y="930.6" textLength="607.69" lengthAdjust="spacingAndGlyphs">Front axle braking torque</tspan><tspan class="lg" x="461.41" y="1008.2" textLength="589.68" lengthAdjust="spacingAndGlyphs">Rear axle braking torque</tspan><tspan class="lg" x="461.39" y="1085.8" textLength="518.95" lengthAdjust="spacingAndGlyphs">Motor braking torque</tspan></text>
<text class="tk" x="240.2" y="64.37" text-anchor="end">0</text>
<text class="tk" x="240.2" y="198.81" text-anchor="end"><tspan class="hy" dy="3">-</tspan><tspan dy="-3" dx="-2.4">50</tspan></text>
<text class="tk" x="240.2" y="333.26" text-anchor="end"><tspan class="hy" dy="3">-</tspan><tspan dy="-3" dx="-2.4">100</tspan></text>
<text class="tk" x="240.2" y="471.24" text-anchor="end"><tspan class="hy" dy="3">-</tspan><tspan dy="-3" dx="-2.4">150</tspan></text>
<text class="tk" x="240.2" y="605.68" text-anchor="end"><tspan class="hy" dy="3">-</tspan><tspan dy="-3" dx="-2.4">200</tspan></text>
<text class="tk" x="240.2" y="740.13" text-anchor="end"><tspan class="hy" dy="3">-</tspan><tspan dy="-3" dx="-2.4">250</tspan></text>
<text class="tk" x="240.2" y="878.11" text-anchor="end"><tspan class="hy" dy="3">-</tspan><tspan dy="-3" dx="-2.4">300</tspan></text>
<text class="tk" x="240.2" y="1012.55" text-anchor="end"><tspan class="hy" dy="3">-</tspan><tspan dy="-3" dx="-2.4">350</tspan></text>
<text class="tk" x="240.2" y="1150.53" text-anchor="end"><tspan class="hy" dy="3">-</tspan><tspan dy="-3" dx="-2.4">400</tspan></text>
<text class="tk" x="255.77" y="1196.7" text-anchor="middle">0</text>
<text class="tk" x="503.43" y="1196.7" text-anchor="middle">300</text>
<text class="tk" x="751.09" y="1196.7" text-anchor="middle">600</text>
<text class="tk" x="1002.29" y="1196.7" text-anchor="middle">900</text>
<text class="tk" x="1249.95" y="1196.7" text-anchor="middle">1200</text>
<text class="tk" x="1497.61" y="1196.7" text-anchor="middle">1500</text>
<text class="tk" x="1748.8" y="1196.7" text-anchor="middle">1800</text>
<text><tspan class="ax" x="901.31" y="1263.6" textLength="158.45" lengthAdjust="spacingAndGlyphs">Time</tspan><tspan class="pr" x="1047.98" y="1261.3" textLength="80.66" lengthAdjust="spacingAndGlyphs">（</tspan><tspan class="ax" x="1132.31" y="1263.6" textLength="32.57" lengthAdjust="spacingAndGlyphs">s</tspan><tspan class="pr" x="1169.76" y="1261.3" textLength="80.66" lengthAdjust="spacingAndGlyphs">）</tspan></text>
<text transform="translate(87.2 894.8) rotate(-90)"><tspan class="ax" x="-0.57" y="0" textLength="212.55" lengthAdjust="spacingAndGlyphs">Torque</tspan><tspan class="pr2" x="210.28" y="-3.5" textLength="68.13" lengthAdjust="spacingAndGlyphs">（</tspan><tspan class="ax" x="286.85" y="0" textLength="55.83" lengthAdjust="spacingAndGlyphs">N</tspan><tspan class="ax" x="346.36" y="0" textLength="18.32" lengthAdjust="spacingAndGlyphs">·</tspan><tspan class="ax" x="366.93" y="0" textLength="60.28" lengthAdjust="spacingAndGlyphs">m</tspan><tspan class="pr2" x="433.38" y="-3.5" textLength="71.62" lengthAdjust="spacingAndGlyphs">）</tspan></text>
</svg>
</body>
</html>
